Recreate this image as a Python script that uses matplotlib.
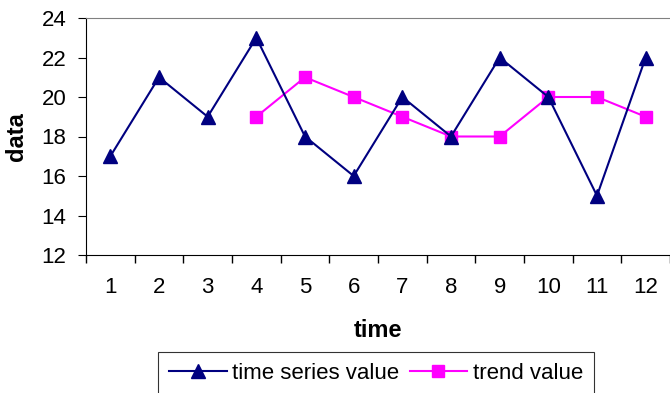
import matplotlib
matplotlib.use('Agg')
import matplotlib.pyplot as plt
import matplotlib.ticker as ticker
import numpy as np

plt.rcParams['font.family'] = ['Liberation Sans', 'DejaVu Sans']

# data
time = [1, 2, 3, 4, 5, 6, 7, 8, 9, 10, 11, 12]
series_value = [17, 21, 19, 23, 18, 16, 20, 18, 22, 20, 15, 22]
trend_time = [4, 5, 6, 7, 8, 9, 10, 11, 12]
trend_value = [19, 21, 20, 19, 18, 18, 20, 20, 19]

fig = plt.figure(figsize=(6.7, 3.93), dpi=100)
ax = fig.add_axes([86 / 670, 1 - 255 / 393, 1 - 86 / 670, (255 - 18) / 393])

ax.plot(time, series_value, color='#000080', lw=1.5, marker='^', ms=10.5,
        label='time series value', zorder=3)
ax.plot(trend_time, trend_value, color='#FF00FF', lw=1.5, marker='s', ms=8.5,
        label='trend value', zorder=2)

ax.set_xlim(0.5, 12.5)
ax.set_ylim(12, 24)
ax.yaxis.set_major_locator(ticker.MultipleLocator(2))
ax.set_xticks(time)
ax.set_xticklabels([str(t) for t in time])
ax.xaxis.set_minor_locator(ticker.FixedLocator(np.arange(0.5, 13, 1)))
ax.tick_params(axis='x', which='major', length=0, labelsize=16, pad=16)
ax.tick_params(axis='x', which='minor', length=6, direction='out', width=1)
ax.tick_params(axis='y', length=6, direction='out', labelsize=16, pad=8)

ax.spines['right'].set_visible(False)
ax.spines['top'].set_color('#808080')
ax.spines['left'].set_color('black')
ax.spines['bottom'].set_color('black')

ax.set_xlabel('time', fontsize=17, fontweight='bold', labelpad=15)
ax.set_ylabel('data', fontsize=17, fontweight='bold', labelpad=10)

leg = fig.legend(loc='upper left', bbox_to_anchor=(158 / 670, 1 - 352 / 393),
                 ncol=2, fontsize=16, frameon=True, fancybox=False,
                 edgecolor='black', handlelength=2.6, columnspacing=0.45,
                 handletextpad=0.25, borderpad=0.5, borderaxespad=0)
leg.get_frame().set_linewidth(0.8)

fig.savefig('out.png', dpi=100)
